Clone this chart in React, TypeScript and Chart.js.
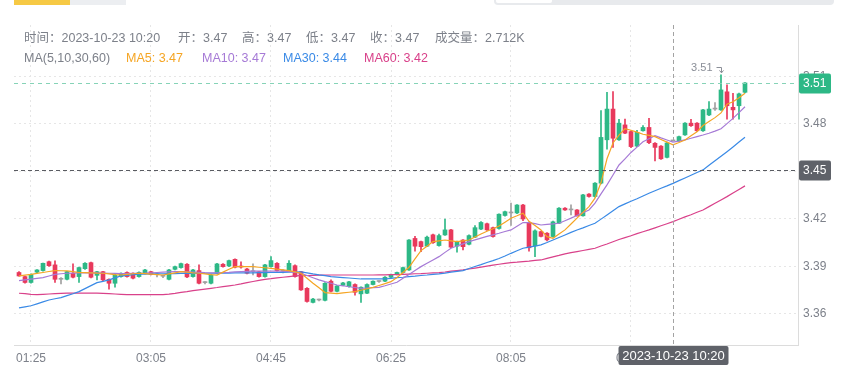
import React, { useEffect, useRef } from 'react';
import { Chart, registerables } from 'chart.js';

Chart.register(...registerables);

const FONT = '"Liberation Sans", "Noto Sans CJK SC", Arial, sans-serif';

// ---- data (5-minute candles starting 01:15) ----
const opens = [
  3.3862, 3.3836, 3.3799, 3.3864, 3.3874, 3.3930, 3.3910, 3.3819, 3.3819, 3.3857,
  3.3836, 3.3886, 3.3924, 3.3844, 3.3867, 3.3819, 3.3794, 3.3836, 3.3862, 3.3857,
  3.3836, 3.3857, 3.3867, 3.3848, 3.3838, 3.3819, 3.3882, 3.3893, 3.3914, 3.3836,
  3.3874, 3.3798, 3.3794, 3.3857, 3.3914, 3.3903, 3.3945, 3.3903, 3.3884, 3.3867,
  3.3867, 3.3836, 3.3899, 3.3920, 3.3870, 3.3874, 3.3905, 3.3867, 3.3762, 3.3673,
  3.3688, 3.3686, 3.3807, 3.3743, 3.3781, 3.3773, 3.3786, 3.3727, 3.3731, 3.3786,
  3.3805, 3.3807, 3.3832, 3.3849, 3.3862, 3.3878, 3.4077, 3.4057, 3.4028, 3.4100,
  3.4032, 3.4099, 3.4131, 3.4028, 3.4067, 3.4040, 3.4085, 3.4136, 3.4170, 3.4145,
  3.4140, 3.4222, 3.4238, 3.4238, 3.4288, 3.4178, 3.4030, 3.4120, 3.4110, 3.4089,
  3.4173, 3.4268, 3.4257, 3.4257, 3.4220, 3.4357, 3.4342, 3.4426, 3.4700, 3.4894,
  3.4700, 3.4794, 3.4752, 3.4660, 3.4757, 3.4778, 3.4678, 3.4660, 3.4589, 3.4693,
  3.4693, 3.4731, 3.4805, 3.4805, 3.4757, 3.4857, 3.4894, 3.4889, 3.5003, 3.4905,
  3.4915, 3.5000,
];
const highs = [
  3.3868, 3.3840, 3.3853, 3.3880, 3.3922, 3.3934, 3.3935, 3.3830, 3.3870, 3.3916,
  3.3896, 3.3924, 3.3928, 3.3870, 3.3870, 3.3822, 3.3850, 3.3860, 3.3866, 3.3860,
  3.3866, 3.3882, 3.3870, 3.3857, 3.3846, 3.3882, 3.3902, 3.3922, 3.3918, 3.3882,
  3.3910, 3.3805, 3.3850, 3.3920, 3.3918, 3.3941, 3.3949, 3.3930, 3.3888, 3.3916,
  3.3870, 3.3914, 3.3962, 3.3924, 3.3880, 3.3937, 3.3910, 3.3870, 3.3766, 3.3698,
  3.3694, 3.3798, 3.3815, 3.3780, 3.3800, 3.3806, 3.3790, 3.3772, 3.3790, 3.3810,
  3.3810, 3.3836, 3.3852, 3.3865, 3.3896, 3.4070, 3.4091, 3.4060, 3.4092, 3.4105,
  3.4105, 3.4200, 3.4135, 3.4060, 3.4070, 3.4100, 3.4159, 3.4184, 3.4174, 3.4148,
  3.4232, 3.4250, 3.4300, 3.4291, 3.4292, 3.4182, 3.4131, 3.4123, 3.4114, 3.4186,
  3.4272, 3.4272, 3.4290, 3.4260, 3.4356, 3.4360, 3.4430, 3.4884, 3.4999, 3.5005,
  3.4830, 3.4831, 3.4756, 3.4760, 3.4790, 3.4836, 3.4682, 3.4664, 3.4685, 3.4693,
  3.4724, 3.4809, 3.4830, 3.4809, 3.4893, 3.4942, 3.4935, 3.5110, 3.5047, 3.4994,
  3.4995, 3.5062,
];
const lows = [
  3.3838, 3.3795, 3.3795, 3.3860, 3.3870, 3.3900, 3.3799, 3.3790, 3.3815, 3.3828,
  3.3799, 3.3882, 3.3828, 3.3815, 3.3810, 3.3756, 3.3769, 3.3832, 3.3832, 3.3822,
  3.3832, 3.3853, 3.3846, 3.3834, 3.3830, 3.3815, 3.3878, 3.3890, 3.3830, 3.3832,
  3.3790, 3.3790, 3.3790, 3.3853, 3.3895, 3.3899, 3.3891, 3.3890, 3.3853, 3.3846,
  3.3832, 3.3832, 3.3895, 3.3870, 3.3860, 3.3870, 3.3832, 3.3748, 3.3675, 3.3670,
  3.3682, 3.3682, 3.3740, 3.3740, 3.3778, 3.3770, 3.3718, 3.3673, 3.3728, 3.3783,
  3.3800, 3.3804, 3.3829, 3.3846, 3.3858, 3.3875, 3.3996, 3.3993, 3.4025, 3.4045,
  3.4028, 3.4096, 3.4018, 3.3990, 3.4004, 3.4036, 3.4082, 3.4132, 3.4128, 3.4085,
  3.4136, 3.4218, 3.4160, 3.4234, 3.4190, 3.3997, 3.3962, 3.4086, 3.4062, 3.4085,
  3.4170, 3.4254, 3.4225, 3.4217, 3.4217, 3.4338, 3.4338, 3.4422, 3.4640, 3.4652,
  3.4696, 3.4738, 3.4650, 3.4656, 3.4754, 3.4675, 3.4567, 3.4576, 3.4585, 3.4693,
  3.4690, 3.4727, 3.4785, 3.4753, 3.4753, 3.4853, 3.4885, 3.4885, 3.4830, 3.4830,
  3.4830, 3.4996,
];
const closes = [
  3.3840, 3.3799, 3.3850, 3.3878, 3.3920, 3.3905, 3.3819, 3.3819, 3.3867, 3.3832,
  3.3893, 3.3920, 3.3832, 3.3867, 3.3815, 3.3794, 3.3846, 3.3857, 3.3836, 3.3826,
  3.3862, 3.3878, 3.3850, 3.3848, 3.3838, 3.3878, 3.3899, 3.3918, 3.3834, 3.3878,
  3.3794, 3.3798, 3.3846, 3.3916, 3.3899, 3.3937, 3.3895, 3.3896, 3.3857, 3.3867,
  3.3836, 3.3910, 3.3937, 3.3874, 3.3870, 3.3920, 3.3836, 3.3752, 3.3679, 3.3694,
  3.3688, 3.3794, 3.3743, 3.3777, 3.3796, 3.3803, 3.3737, 3.3769, 3.3786, 3.3807,
  3.3805, 3.3832, 3.3849, 3.3862, 3.3893, 3.4067, 3.4028, 3.4025, 3.4085, 3.4050,
  3.4095, 3.4131, 3.4022, 3.4057, 3.4025, 3.4095, 3.4145, 3.4178, 3.4131, 3.4089,
  3.4230, 3.4246, 3.4238, 3.4288, 3.4200, 3.4018, 3.4125, 3.4090, 3.4068, 3.4182,
  3.4268, 3.4257, 3.4257, 3.4220, 3.4352, 3.4342, 3.4426, 3.4715, 3.4894, 3.4710,
  3.4805, 3.4742, 3.4657, 3.4747, 3.4778, 3.4682, 3.4652, 3.4580, 3.4680, 3.4693,
  3.4720, 3.4805, 3.4789, 3.4757, 3.4889, 3.4894, 3.4894, 3.5015, 3.4915, 3.4889,
  3.4990, 3.5059,
];
const ma5 = [
  3.3840, 3.3845, 3.3850, 3.3856, 3.3862, 3.3868, 3.3874, 3.3873, 3.3872, 3.3867,
  3.3862, 3.3861, 3.3860, 3.3858, 3.3857, 3.3853, 3.3849, 3.3846, 3.3850, 3.3854,
  3.3857, 3.3855, 3.3852, 3.3849, 3.3846, 3.3853, 3.3860, 3.3867, 3.3864, 3.3860,
  3.3857, 3.3853, 3.3849, 3.3846, 3.3864, 3.3882, 3.3899, 3.3899, 3.3899, 3.3899,
  3.3895, 3.3892, 3.3888, 3.3883, 3.3879, 3.3874, 3.3866, 3.3857, 3.3826, 3.3794,
  3.3765, 3.3735, 3.3732, 3.3729, 3.3733, 3.3737, 3.3741, 3.3750, 3.3759, 3.3768,
  3.3780, 3.3792, 3.3804, 3.3830, 3.3862, 3.3895, 3.3948, 3.4000, 3.4028, 3.4057,
  3.4062, 3.4067, 3.4062, 3.4057, 3.4062, 3.4067, 3.4086, 3.4105, 3.4122, 3.4138,
  3.4155, 3.4180, 3.4205, 3.4220, 3.4236, 3.4185, 3.4158, 3.4131, 3.4088, 3.4078,
  3.4105, 3.4131, 3.4168, 3.4205, 3.4242, 3.4278, 3.4331, 3.4430, 3.4580, 3.4680,
  3.4730, 3.4770, 3.4760, 3.4748, 3.4735, 3.4728, 3.4720, 3.4702, 3.4685, 3.4668,
  3.4683, 3.4699, 3.4725, 3.4751, 3.4790, 3.4815, 3.4840, 3.4870, 3.4925, 3.4940,
  3.4965, 3.4994,
];
const ma10 = [
  3.3810, 3.3815, 3.3820, 3.3825, 3.3830, 3.3840, 3.3850, 3.3854, 3.3857, 3.3858,
  3.3859, 3.3860, 3.3860, 3.3859, 3.3858, 3.3857, 3.3856, 3.3855, 3.3855, 3.3856,
  3.3857, 3.3858, 3.3860, 3.3862, 3.3864, 3.3866, 3.3867, 3.3867, 3.3866, 3.3865,
  3.3863, 3.3861, 3.3860, 3.3860, 3.3861, 3.3863, 3.3866, 3.3868, 3.3869, 3.3870,
  3.3870, 3.3870, 3.3871, 3.3871, 3.3870, 3.3868, 3.3863, 3.3857, 3.3843, 3.3829,
  3.3815, 3.3804, 3.3794, 3.3783, 3.3778, 3.3772, 3.3767, 3.3762, 3.3764, 3.3766,
  3.3768, 3.3778, 3.3789, 3.3800, 3.3825, 3.3850, 3.3875, 3.3899, 3.3920, 3.3941,
  3.3962, 3.3989, 3.4015, 3.4029, 3.4043, 3.4057, 3.4068, 3.4079, 3.4090, 3.4100,
  3.4110, 3.4121, 3.4131, 3.4154, 3.4177, 3.4177, 3.4170, 3.4162, 3.4166, 3.4169,
  3.4173, 3.4189, 3.4205, 3.4222, 3.4240, 3.4257, 3.4300, 3.4358, 3.4415, 3.4478,
  3.4541, 3.4580, 3.4620, 3.4654, 3.4688, 3.4707, 3.4726, 3.4712, 3.4699, 3.4686,
  3.4692, 3.4699, 3.4710, 3.4720, 3.4730, 3.4741, 3.4755, 3.4770, 3.4802, 3.4835,
  3.4872, 3.4909,
];
const ma30 = [
  3.3638, 3.3645, 3.3652, 3.3664, 3.3676, 3.3688, 3.3696, 3.3703, 3.3716, 3.3728,
  3.3741, 3.3760, 3.3779, 3.3798, 3.3806, 3.3815, 3.3828, 3.3840, 3.3844, 3.3848,
  3.3851, 3.3852, 3.3853, 3.3854, 3.3854, 3.3855, 3.3855, 3.3856, 3.3856, 3.3856,
  3.3857, 3.3857, 3.3857, 3.3857, 3.3858, 3.3858, 3.3859, 3.3859, 3.3860, 3.3860,
  3.3861, 3.3861, 3.3862, 3.3862, 3.3863, 3.3864, 3.3865, 3.3866, 3.3860, 3.3853,
  3.3847, 3.3842, 3.3836, 3.3833, 3.3830, 3.3827, 3.3824, 3.3821, 3.3821, 3.3821,
  3.3821, 3.3821, 3.3825, 3.3829, 3.3832, 3.3836, 3.3839, 3.3843, 3.3846, 3.3850,
  3.3853, 3.3858, 3.3864, 3.3869, 3.3874, 3.3887, 3.3900, 3.3912, 3.3925, 3.3937,
  3.3950, 3.3966, 3.3983, 3.3999, 3.4015, 3.4022, 3.4029, 3.4036, 3.4051, 3.4067,
  3.4083, 3.4099, 3.4115, 3.4130, 3.4144, 3.4159, 3.4173, 3.4199, 3.4225, 3.4252,
  3.4278, 3.4295, 3.4312, 3.4328, 3.4345, 3.4362, 3.4378, 3.4394, 3.4409, 3.4425,
  3.4442, 3.4459, 3.4476, 3.4493, 3.4510, 3.4539, 3.4567, 3.4596, 3.4625, 3.4655,
  3.4686, 3.4716,
];
const ma60 = [
  3.3731, 3.3728, 3.3724, 3.3722, 3.3724, 3.3726, 3.3728, 3.3730, 3.3731, 3.3731,
  3.3731, 3.3731, 3.3731, 3.3731, 3.3730, 3.3728, 3.3726, 3.3724, 3.3722, 3.3722,
  3.3722, 3.3722, 3.3722, 3.3722, 3.3722, 3.3725, 3.3730, 3.3736, 3.3741, 3.3747,
  3.3752, 3.3757, 3.3762, 3.3767, 3.3773, 3.3778, 3.3783, 3.3790, 3.3798, 3.3805,
  3.3812, 3.3819, 3.3823, 3.3828, 3.3832, 3.3836, 3.3840, 3.3842, 3.3843, 3.3844,
  3.3845, 3.3845, 3.3846, 3.3846, 3.3846, 3.3846, 3.3846, 3.3846, 3.3846, 3.3846,
  3.3847, 3.3847, 3.3848, 3.3848, 3.3850, 3.3852, 3.3854, 3.3855, 3.3857, 3.3859,
  3.3861, 3.3865, 3.3870, 3.3874, 3.3878, 3.3884, 3.3890, 3.3896, 3.3902, 3.3908,
  3.3914, 3.3920, 3.3924, 3.3927, 3.3931, 3.3934, 3.3938, 3.3941, 3.3951, 3.3961,
  3.3970, 3.3980, 3.3987, 3.3994, 3.4001, 3.4008, 3.4015, 3.4029, 3.4042, 3.4056,
  3.4070, 3.4082, 3.4094, 3.4107, 3.4119, 3.4131, 3.4144, 3.4157, 3.4170, 3.4183,
  3.4198, 3.4213, 3.4227, 3.4242, 3.4257, 3.4278, 3.4299, 3.4320, 3.4341, 3.4364,
  3.4386, 3.4409,
];

const startTime = '01:15';
const stepMinutes = 5;
const xTickLabels = ['01:25', '03:05', '04:45', '06:25', '08:05', '09:45'];
const yTickValues = [3.36, 3.39, 3.42, 3.45, 3.48, 3.51];
const yMin = 3.3404;
const yMax = 3.5425;
const crossIndex = 109;
const crossPrice = 3.451;
const crossDate = '2023-10-23';
const volumeText = '2.712K';

const UP = '#2db886';
const DOWN = '#e8395c';
const FLAT = '#a0a0a0';
const C_MA5 = '#f5a524';
const C_MA10 = '#a67ad6';
const C_MA30 = '#3a8ae6';
const C_MA60 = '#d9418a';
const TEXT = '#7d818a';
const GRID = '#e6e6e6';
const AXIS = '#dcdcdc';

const toClock = (m: number) => {
  const h = Math.floor(m / 60) % 24;
  const mm = m % 60;
  return `${String(h).padStart(2, '0')}:${String(mm).padStart(2, '0')}`;
};
const startMin = parseInt(startTime.slice(0, 2), 10) * 60 + parseInt(startTime.slice(3), 10);
const times = opens.map((_, i) => toClock(startMin + i * stepMinutes));

const candleColor = (i: number) =>
  closes[i] > opens[i] ? UP : closes[i] < opens[i] ? DOWN : FLAT;

function roundRect(ctx: CanvasRenderingContext2D, x: number, y: number, w: number, h: number, r: number) {
  ctx.beginPath();
  ctx.moveTo(x + r, y);
  ctx.lineTo(x + w - r, y);
  ctx.quadraticCurveTo(x + w, y, x + w, y + r);
  ctx.lineTo(x + w, y + h - r);
  ctx.quadraticCurveTo(x + w, y + h, x + w - r, y + h);
  ctx.lineTo(x + r, y + h);
  ctx.quadraticCurveTo(x, y + h, x, y + h - r);
  ctx.lineTo(x, y + r);
  ctx.quadraticCurveTo(x, y, x + r, y);
  ctx.closePath();
}

const overlayPlugin = {
  id: 'klineOverlay',
  afterDraw(chart: any) {
    const { ctx, chartArea: a, scales } = chart;
    const xs = scales.x;
    const ys = scales.y;
    ctx.save();
    ctx.lineWidth = 1;

    // last price line
    const last = closes[closes.length - 1];
    const py = Math.round(ys.getPixelForValue(last)) + 0.5;
    ctx.setLineDash([4, 4]);
    ctx.strokeStyle = '#86d3b7';
    ctx.beginPath();
    ctx.moveTo(a.left, py);
    ctx.lineTo(a.right, py);
    ctx.stroke();

    // crosshair
    const cx = Math.round(xs.getPixelForValue(crossIndex)) + 0.5;
    const cy = Math.round(ys.getPixelForValue(crossPrice)) + 0.5;
    ctx.setLineDash([4, 3]);
    ctx.strokeStyle = '#a3a3a3';
    ctx.beginPath();
    ctx.moveTo(cx, a.top);
    ctx.lineTo(cx, a.bottom);
    ctx.stroke();
    ctx.strokeStyle = '#5a5c62';
    ctx.beginPath();
    ctx.moveTo(a.left, cy);
    ctx.lineTo(a.right, cy);
    ctx.stroke();
    ctx.setLineDash([]);

    // max annotation
    let mi = 0;
    highs.forEach((h, i) => { if (h > highs[mi]) mi = i; });
    const hx = Math.round(xs.getPixelForValue(mi)) + 0.5;
    const hy = ys.getPixelForValue(highs[mi]);
    const ay = Math.round(hy - 8) + 0.5;
    ctx.strokeStyle = '#8a8e97';
    ctx.beginPath();
    ctx.moveTo(hx - 5, ay);
    ctx.lineTo(hx, ay);
    ctx.lineTo(hx, hy - 2);
    ctx.stroke();
    ctx.beginPath();
    ctx.moveTo(hx - 2, hy - 4.5);
    ctx.lineTo(hx, hy - 2);
    ctx.lineTo(hx + 2, hy - 4.5);
    ctx.stroke();
    ctx.fillStyle = '#8a8e97';
    ctx.font = `11px ${FONT}`;
    ctx.textAlign = 'right';
    ctx.textBaseline = 'middle';
    ctx.fillText(highs[mi].toFixed(2), hx - 9, ay);

    // right price labels
    const boxL = a.right + 1;
    ctx.textAlign = 'left';
    ctx.font = `12px ${FONT}`;
    ctx.fillStyle = UP;
    roundRect(ctx, boxL, py - 10, 32, 20, 2);
    ctx.fill();
    ctx.fillStyle = '#ffffff';
    ctx.fillText(last.toFixed(2), boxL + 4, py + 0.5);

    ctx.fillStyle = '#5f6269';
    roundRect(ctx, boxL, cy - 10, 32, 20, 2);
    ctx.fill();
    ctx.fillStyle = '#ffffff';
    ctx.fillText(crossPrice.toFixed(2), boxL + 4, cy + 0.5);

    // bottom time label
    ctx.fillStyle = '#5f6269';
    roundRect(ctx, cx - 55, a.bottom + 1, 110, 19, 2);
    ctx.fill();
    ctx.fillStyle = '#ffffff';
    ctx.font = `13px ${FONT}`;
    ctx.textAlign = 'center';
    ctx.fillText(`${crossDate} ${times[crossIndex]}`, cx, a.bottom + 11);

    ctx.restore();
  },
};

export default function App() {
  const canvasRef = useRef<HTMLCanvasElement | null>(null);

  useEffect(() => {
    const canvas = canvasRef.current;
    if (!canvas) return;
    Chart.defaults.font.family = FONT;
    const idx = opens.map((_, i) => i);
    const line = (label: string, data: number[], color: string) => ({
      type: 'line' as const,
      label,
      data: data.map((v, i) => ({ x: i, y: v })),
      borderColor: color,
      backgroundColor: color,
      borderWidth: 1.2,
      pointRadius: 0,
      tension: 0,
      order: 1,
    });
    const chart = new Chart(canvas, {
      type: 'bar',
      data: {
        datasets: [
          line('MA5', ma5, C_MA5),
          line('MA10', ma10, C_MA10),
          line('MA30', ma30, C_MA30),
          line('MA60', ma60, C_MA60),
          {
            type: 'bar',
            label: 'body',
            data: idx.map((i) => ({ x: i, y: [opens[i], closes[i]] })),
            backgroundColor: idx.map(candleColor),
            barThickness: 4,
            minBarLength: 1,
            grouped: false,
            order: 5,
          } as any,
          {
            type: 'bar',
            label: 'wick',
            data: idx.map((i) => ({ x: i, y: [lows[i], highs[i]] })),
            backgroundColor: idx.map(candleColor),
            barThickness: 1,
            grouped: false,
            order: 6,
          } as any,
        ],
      },
      options: {
        animation: false,
        responsive: false,
        events: [],
        layout: { padding: { left: 14, top: 25, right: 0, bottom: 0 } },
        plugins: { legend: { display: false }, tooltip: { enabled: false } },
        scales: {
          x: {
            type: 'linear',
            offset: false,
            bounds: 'ticks',
            min: -5 / 6,
            max: 779 / 6,
            afterDataLimits: (s: any) => { s.min = -5 / 6; s.max = 779 / 6; },
            afterBuildTicks: (s: any) => {
              s.ticks = xTickLabels.map((l) => ({ value: times.indexOf(l) }));
            },
            afterFit: (s: any) => { s.height = 25; },
            ticks: {
              callback: (v: any) => times[Number(v)] ?? '',
              color: TEXT,
              font: { size: 12 },
              padding: 6,
              maxRotation: 0,
              autoSkip: false,
            },
            grid: { color: GRID, drawTicks: false, offset: false },
            border: { color: AXIS, dash: [2, 3] },
          },
          y: {
            type: 'linear',
            position: 'right',
            min: yMin,
            max: yMax,
            afterBuildTicks: (s: any) => {
              s.ticks = yTickValues.map((v) => ({ value: v }));
            },
            afterFit: (s: any) => { s.width = 47; },
            ticks: {
              callback: (v: any) => Number(v).toFixed(2),
              color: TEXT,
              font: { size: 12 },
              padding: 5,
            },
            grid: { color: GRID, drawTicks: false },
            border: { color: AXIS, dash: [2, 3] },
          },
        },
      } as any,
      plugins: [overlayPlugin],
    });
    return () => chart.destroy();
  }, []);

  const row1 = [
    { left: 24, text: `时间：${crossDate} ${times[crossIndex]}` },
    { left: 178, text: `开：${opens[crossIndex].toFixed(2)}` },
    { left: 242, text: `高：${highs[crossIndex].toFixed(2)}` },
    { left: 306, text: `低：${lows[crossIndex].toFixed(2)}` },
    { left: 370, text: `收：${closes[crossIndex].toFixed(2)}` },
    { left: 435, text: `成交量：${volumeText}` },
  ];
  const row2 = [
    { left: 24, text: 'MA(5,10,30,60)', color: TEXT },
    { left: 126, text: `MA5: ${ma5[crossIndex].toFixed(2)}`, color: C_MA5 },
    { left: 202, text: `MA10: ${ma10[crossIndex].toFixed(2)}`, color: C_MA10 },
    { left: 283, text: `MA30: ${ma30[crossIndex].toFixed(2)}`, color: C_MA30 },
    { left: 364, text: `MA60: ${ma60[crossIndex].toFixed(2)}`, color: C_MA60 },
  ];
  const textStyle = {
    position: 'absolute' as const,
    fontFamily: FONT,
    fontSize: '12.5px',
    lineHeight: '14px',
    whiteSpace: 'nowrap' as const,
  };

  return (
    <div style={{ position: 'fixed', left: 0, top: 0, width: 845, height: 370, background: '#fff', overflow: 'hidden' }}>
      <canvas ref={canvasRef} width={845} height={370} style={{ position: 'absolute', left: 0, top: 0, width: 845, height: 370 }} />
      <div style={{ position: 'absolute', left: 14, top: 0, width: 56, height: 5, background: '#f6c945' }} />
      <div style={{ position: 'absolute', left: 70, top: 0, width: 56, height: 5, background: '#eceef1' }} />
      <div style={{ position: 'absolute', left: 494, top: 0, width: 340, height: 5, background: '#e8eaed', borderRadius: '0 0 4px 4px' }} />
      <div style={{ position: 'absolute', left: 496, top: 0, width: 56, height: 3, background: '#ffffff', borderRadius: '0 0 2px 2px' }} />
      {row1.map((r, i) => (
        <div key={'a' + i} style={{ ...textStyle, left: r.left, top: 31, color: TEXT }}>{r.text}</div>
      ))}
      {row2.map((r, i) => (
        <div key={'b' + i} style={{ ...textStyle, left: r.left, top: 51, color: r.color }}>{r.text}</div>
      ))}
    </div>
  );
}
